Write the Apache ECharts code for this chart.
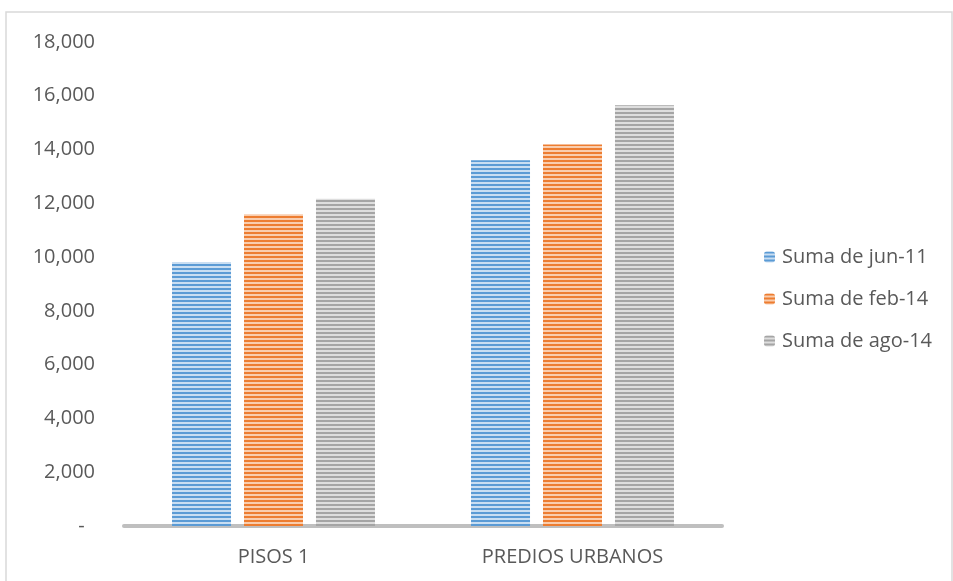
<!DOCTYPE html>
<html><head><meta charset="utf-8">
<script src="https://cdn.jsdelivr.net/npm/echarts@6/dist/echarts.min.js"></script>
<style>html,body{margin:0;padding:0;background:#fff}#c{width:953px;height:581px}</style>
</head><body><div id="c"></div>
<script>
const categories = ['PISOS 1', 'PREDIOS URBANOS'];
const seriesNames = ['Suma de jun-11', 'Suma de feb-14', 'Suma de ago-14'];
const jun11 = [9820, 13600];
const feb14 = [11590, 14190];
const ago14 = [12170, 15650];
const yTicks = [0, 2000, 4000, 6000, 8000, 10000, 12000, 14000, 16000, 18000];

function stripe(dark, light) {
  const c = document.createElement('canvas');
  c.width = 4; c.height = 4;
  const g = c.getContext('2d');
  g.fillStyle = light; g.fillRect(0, 0, 4, 4);
  g.fillStyle = dark; g.fillRect(0, 0, 4, 2);
  return { image: c, repeat: 'repeat' };
}
const pats = [
  stripe('#5B9BD5', '#C9DEF2'),
  stripe('#ED7D31', '#F9CDAE'),
  stripe('#A5A5A5', '#DEDEDE')
];
const font = 'Open Sans';
const chart = echarts.init(document.getElementById('c'));
const dataSets = [jun11, feb14, ago14];
chart.setOption({
  animation: false,
  textStyle: { fontFamily: font },
  graphic: [{
    type: 'rect', shape: { x: 6, y: 12, width: 946, height: 620 },
    style: { fill: 'none', stroke: '#D9D9D9', lineWidth: 1.5 }, silent: true
  }],
  grid: { left: 124, right: 231, top: 42, bottom: 55 },
  legend: {
    orient: 'vertical', left: 764, top: 247, padding: 0,
    itemWidth: 11, itemHeight: 11, itemGap: 22,
    textStyle: { fontSize: 20, lineHeight: 20, color: '#595959', fontFamily: font, padding: [0, 0, 0, 2] },
    data: seriesNames
  },
  xAxis: {
    type: 'category', data: categories,
    axisLine: { lineStyle: { color: '#BFBFBF', width: 4 } },
    axisTick: { show: false },
    axisLabel: { color: '#595959', fontSize: 20, margin: 21, fontFamily: font }
  },
  yAxis: {
    type: 'value', min: 0, max: 18000, interval: 2000,
    splitLine: { show: false }, axisLine: { show: false }, axisTick: { show: false },
    axisLabel: {
      color: '#595959', fontSize: 20, margin: 29, fontFamily: font,
      formatter: v => v === 0 ? '-  ' : v.toLocaleString('en-US')
    }
  },
  series: dataSets.map((d, i) => ({
    name: seriesNames[i], type: 'bar', data: d,
    barWidth: 59, barGap: '22%',
    itemStyle: { color: pats[i] }
  }))
});
</script></body></html>
